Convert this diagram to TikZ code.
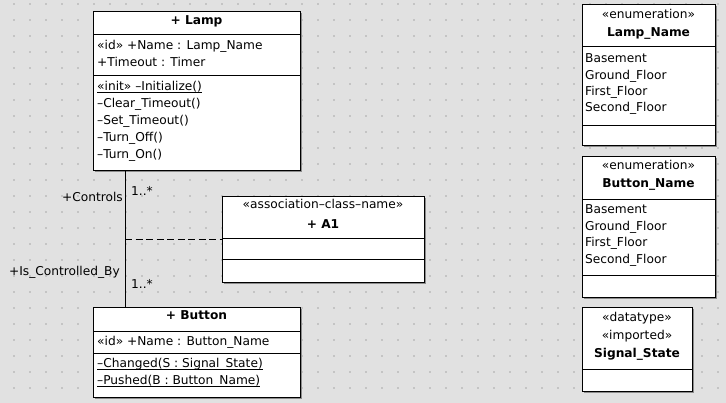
\documentclass[tikz,border=0pt]{standalone}
\usepackage{fontspec}
\setmainfont{DejaVu Sans}
\usetikzlibrary{shadows}
\definecolor{bgc}{HTML}{E1E1E1}
\definecolor{dotc}{HTML}{C4C4C4}
\newcommand{\myul}[1]{\underline{\smash{#1}}}
\begin{document}
\begin{tikzpicture}[x=1pt,y=-1pt,
  box/.style={draw=black,line width=1pt,fill=white,anchor=north west,inner sep=0pt,
    drop shadow={shadow xshift=1.6pt,shadow yshift=-1.6pt,fill=black!45,opacity=1}},
  txt/.style={font=\fontsize{12.2}{14}\selectfont,inner sep=0pt,anchor=mid west},
  ctxt/.style={font=\fontsize{12.2}{14}\selectfont,inner sep=0pt,anchor=mid},
  btxt/.style={font=\fontsize{12.2}{14}\selectfont\bfseries,inner sep=0pt,anchor=mid},
  sep/.style={line width=1pt},
  conn/.style={line width=1pt},
  lbl/.style={font=\fontsize{12.2}{14}\selectfont,inner sep=0pt}]
\useasboundingbox (0,0) rectangle (726,403);
\fill[bgc] (0,0) rectangle (726,403);
\foreach \x in {14,30,...,726}{\foreach \y in {4,20,...,403}{\fill[dotc] (\x-1,\y-1) rectangle ++(2,2);}}

% Lamp
\node[box,minimum width=207pt,minimum height=159pt] (lamp) at (93,11) {};
\draw[sep] (93,35) -- (300,35);
\draw[sep] (93,76) -- (300,76);
\node[btxt] (lampn) at (196.5,21.5) {+ Lamp};
\node[txt] (la1) at (97,46.5) {«id» +Name : Lamp\_Name};
\node[txt] (la2) at (97,63.5) {+Timeout : Timer};
\node[txt] (lo1) at (97,88) {\myul{«init» –Initialize()}};
\node[txt] (lo2) at (97,104.5) {–Clear\_Timeout()};
\node[txt] (lo3) at (97,121.5) {–Set\_Timeout()};
\node[txt] (lo4) at (97,138.5) {–Turn\_Off()};
\node[txt] (lo5) at (97,156) {–Turn\_On()};

% Button
\node[box,minimum width=207pt,minimum height=90pt] (button) at (93,307) {};
\draw[sep] (93,332) -- (300,332);
\draw[sep] (93,354) -- (300,354);
\node[btxt] (buttonn) at (196.5,317) {+ Button};
\node[txt] (ba1) at (97,343) {«id» +Name : Button\_Name};
\node[txt] (bo1) at (97,365) {\myul{–Changed(S : Signal\_State)}};
\node[txt] (bo2) at (97,382) {\myul{–Pushed(B : Button\_Name)}};

% A1
\node[box,minimum width=202pt,minimum height=86pt] (a1) at (222,196) {};
\draw[sep] (222,239) -- (424,239);
\draw[sep] (222,260) -- (424,260);
\node[ctxt] (a1s) at (323,206) {«association–class–name»};
\node[btxt] (a1n) at (323,226) {+ A1};

% Lamp_Name
\node[box,minimum width=133pt,minimum height=141pt] (lname) at (582,4) {};
\draw[sep] (582,47) -- (715,47);
\draw[sep] (582,126) -- (715,126);
\node[ctxt] (lns) at (648.5,16) {«enumeration»};
\node[btxt] (lnn) at (648.5,34) {Lamp\_Name};
\node[txt] (ln1) at (585,60) {Basement};
\node[txt] (ln2) at (585,76.5) {Ground\_Floor};
\node[txt] (ln3) at (585,92.5) {First\_Floor};
\node[txt] (ln4) at (585,109) {Second\_Floor};

% Button_Name
\node[box,minimum width=133pt,minimum height=141pt] (bname) at (582,156) {};
\draw[sep] (582,200) -- (715,200);
\draw[sep] (582,276) -- (715,276);
\node[ctxt] (bns) at (648.5,166.5) {«enumeration»};
\node[btxt] (bnn) at (648.5,185) {Button\_Name};
\node[txt] (bn1) at (585,211) {Basement};
\node[txt] (bn2) at (585,227.5) {Ground\_Floor};
\node[txt] (bn3) at (585,244) {First\_Floor};
\node[txt] (bn4) at (585,261) {Second\_Floor};

% Signal_State
\node[box,minimum width=110pt,minimum height=84pt] (sig) at (582,307) {};
\draw[sep] (582,370) -- (692,370);
\node[ctxt] (ss1) at (637,319) {«datatype»};
\node[ctxt] (ss2) at (637,337) {«imported»};
\node[btxt] (ssn) at (637,354.5) {Signal\_State};

% association
\coordinate (top) at ([xshift=32pt]lamp.south west);
\coordinate (bot) at ([xshift=32pt]button.north west);
\draw[conn] (top) -- (bot);
\coordinate (mid) at (top |- a1.west);
\draw[conn,dash pattern=on 7pt off 3.5pt] (mid) -- (a1.west);
\node[lbl,anchor=mid east] (ctl) at (123,199) {+Controls};
\node[lbl,anchor=mid west] (m1) at (131,193) {1..*};
\node[lbl,anchor=mid east] (icb) at (120,272.5) {+Is\_Controlled\_By};
\node[lbl,anchor=mid west] (m2) at (131,286) {1..*};
\end{tikzpicture}
\end{document}
